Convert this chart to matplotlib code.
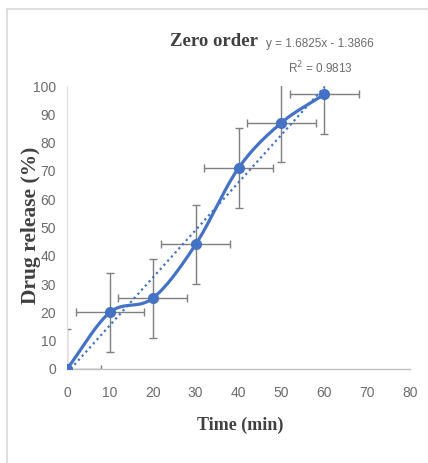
import numpy as np
import matplotlib
matplotlib.use("Agg")
import matplotlib.pyplot as plt
from matplotlib.lines import Line2D

time_min = [0, 10, 20, 30, 40, 50, 60]
release = [0, 20, 25, 44, 71, 87, 97]
x_err = [8, 8, 8, 8, 8, 8, 8]
y_err = [14, 14, 14, 14, 14, 14, 14]
slope, intercept = 1.6825, -1.3866
r2 = 0.9813
x_ticks = [0, 10, 20, 30, 40, 50, 60, 70, 80]
y_ticks = [0, 10, 20, 30, 40, 50, 60, 70, 80, 90, 100]

blue = "#4472C4"
gray_txt = "#6B6B6B"

def catmull_rom(x, y, n=30):
    x = np.asarray(x, float); y = np.asarray(y, float)
    px = np.concatenate([[2*x[0]-x[1]], x, [2*x[-1]-x[-2]]])
    py = np.concatenate([[2*y[0]-y[1]], y, [2*y[-1]-y[-2]]])
    xs, ys = [], []
    t = np.linspace(0, 1, n)
    for i in range(1, len(px)-2):
        for arr, out in ((px, xs), (py, ys)):
            p0, p1, p2, p3 = arr[i-1], arr[i], arr[i+1], arr[i+2]
            out.extend(0.5*((2*p1) + (-p0+p2)*t + (2*p0-5*p1+4*p2-p3)*t**2 + (-p0+3*p1-3*p2+p3)*t**3))
    return np.array(xs), np.array(ys)

fig = plt.figure(figsize=(4.28, 4.63), dpi=100)
W, H = 428, 463
ax = fig.add_axes([67/W, 1-369/H, (410-67)/W, (369-86)/H])

ax.errorbar(time_min, release, xerr=x_err, yerr=y_err, fmt="none",
            ecolor="#7F7F7F", elinewidth=1.0, capsize=3, capthick=1.0, zorder=2)
sx, sy = catmull_rom(time_min, release)
ax.plot(sx, sy, color=blue, lw=2.3, zorder=3, solid_capstyle="round")
ax.plot(time_min, release, "o", color=blue, ms=7, zorder=4)
tx = np.array([time_min[0], time_min[-1]])
ax.plot(tx, slope*tx + intercept, color=blue, lw=1.6, ls=(0, (1, 1.5)), zorder=3)

ax.set_xlim(0, 80)
ax.set_ylim(0, 100)
ax.set_xticks(x_ticks)
ax.set_yticks(y_ticks)
sans = ["Liberation Sans", "DejaVu Sans"]
tick_font = dict(family=sans, size=10)
ax.set_xticklabels([str(v) for v in x_ticks], **tick_font, color=gray_txt)
ax.set_yticklabels([str(v) for v in y_ticks], **tick_font, color=gray_txt)
ax.tick_params(axis="x", length=0, pad=12)
ax.tick_params(axis="y", length=0, pad=8)
for s in ("top", "right"):
    ax.spines[s].set_visible(False)
ax.spines["bottom"].set_color("#BFBFBF")
ax.spines["left"].set_color("#E0E0E0")
ax.spines["bottom"].set_linewidth(1.0)
ax.patch.set_alpha(0)

serif = ["Liberation Serif", "DejaVu Serif"]
fig.text(214/W, 1-42/H, "Zero order", family=serif, weight="bold", size=13.5,
         ha="center", va="center", color="#404040")
fig.text(320/W, 1-44/H, "y = 1.6825x - 1.3866", family=sans,
         size=8.5, ha="center", va="center", color=gray_txt)
fig.text(320/W, 1-68/H, "R$^2$ = 0.9813", family=sans,
         size=8.5, ha="center", va="center", color=gray_txt)
fig.text(31/W, 1-225/H, "Drug release (%)", family=serif, weight="bold", size=15.5,
         ha="center", va="center", rotation=90, color="#404040")
fig.text(240/W, 1-425/H, "Time (min)", family=serif, weight="bold", size=13,
         ha="center", va="center", color="#404040")

fig.add_artist(Line2D([7/W, 1], [1-9/H, 1-9/H], color="#D9D9D9", lw=1.2, transform=fig.transFigure))
fig.add_artist(Line2D([7/W, 7/W], [1-9/H, 0], color="#D9D9D9", lw=1.2, transform=fig.transFigure))

fig.savefig("out.png", dpi=100)
